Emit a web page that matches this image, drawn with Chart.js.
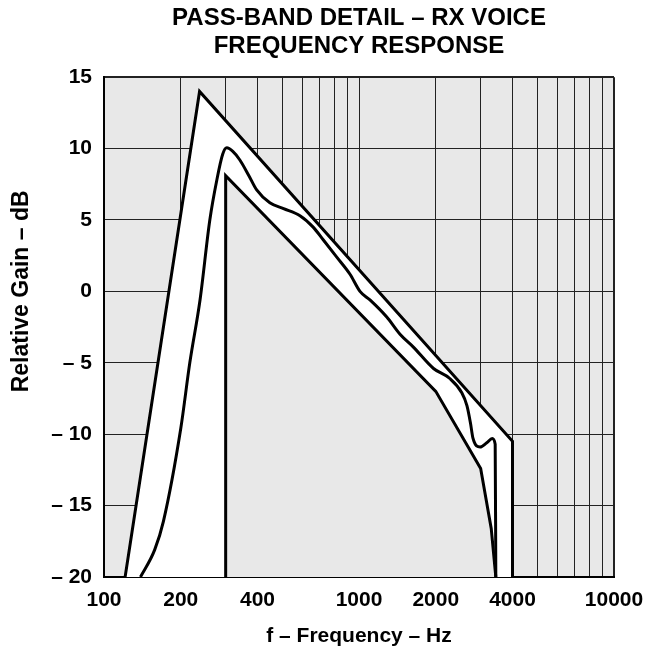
<!DOCTYPE html>
<html>
<head>
<meta charset="utf-8">
<script src="https://cdn.jsdelivr.net/npm/chart.js@4"></script>
<style>
  html, body { margin: 0; padding: 0; background: #fff; }
</style>
</head>
<body>
<canvas id="chart" width="662" height="650"></canvas>
<script>
// upper limit of the template
const upperFreq = [121, 237, 4000, 4000];
const upperGain = [-20, 14, -10.5, -20];

// lower limit of the template
const lowerFreq = [300, 300, 2000, 3000, 3300, 3440];
const lowerGain = [-20, 8.1, -7.0, -12.4, -16.6, -20];

// measured response
const respFreq = [139, 158, 171, 200, 217, 238, 260, 277, 292, 303, 320, 341, 370, 397, 447, 506, 587, 661, 725, 818, 922, 1009, 1104, 1285, 1448, 1634, 1960, 2270, 2530, 2650, 2735, 2800, 2985, 3170, 3330, 3420, 3440];
const respGain = [-20, -18.1, -16.1, -9.6, -5, -0.6, 5, 7.8, 9.6, 10.05, 9.8, 9.2, 8.1, 7.1, 6.2, 5.8, 5.3, 4.5, 3.6, 2.4, 1.2, 0, -0.6, -1.8, -3.0, -3.9, -5.4, -6.1, -7.1, -8.0, -9.2, -10.3, -10.9, -10.6, -10.3, -10.7, -20];

const gridFreqs = [100, 200, 300, 400, 500, 600, 700, 800, 900, 1000, 2000, 3000, 4000, 5000, 6000, 7000, 8000, 9000, 10000];
const freqLabels = [100, 200, 400, 1000, 2000, 4000, 10000];
const yTitle = 'Relative Gain – dB';

const plotGray = '#e8e8e8';
const font = 'Liberation Sans, Arial, Helvetica, sans-serif';

const toPoints = (xs, ys) => xs.map((x, i) => ({x: x, y: ys[i]}));

const plotBackground = {
  id: 'plotBackground',
  beforeDraw(chart) {
    const {ctx, chartArea} = chart;
    ctx.save();
    ctx.fillStyle = plotGray;
    ctx.fillRect(chartArea.left, chartArea.top, chartArea.right - chartArea.left, chartArea.bottom - chartArea.top);
    ctx.restore();
  }
};

// y axis title sits a little above the middle of the plot in the original
const yAxisTitle = {
  id: 'yAxisTitle',
  afterDraw(chart) {
    const {ctx} = chart;
    const y = chart.scales.y.getPixelForValue(0);
    ctx.save();
    ctx.translate(22, y);
    ctx.rotate(-Math.PI / 2);
    ctx.font = 'bold 23px ' + font;
    ctx.fillStyle = '#000';
    ctx.textAlign = 'center';
    ctx.textBaseline = 'middle';
    ctx.fillText(yTitle, 0, 0);
    ctx.restore();
  }
};

new Chart(document.getElementById('chart'), {
  type: 'line',
  data: {
    datasets: [
      {
        label: 'Response',
        data: toPoints(respFreq, respGain),
        borderColor: '#000',
        borderWidth: 3,
        pointRadius: 0,
        cubicInterpolationMode: 'monotone',
        fill: false
      },
      {
        label: 'Lower limit',
        data: toPoints(lowerFreq, lowerGain),
        borderColor: '#000',
        borderWidth: 3,
        pointRadius: 0,
        tension: 0,
        fill: 'start',
        backgroundColor: plotGray
      },
      {
        label: 'Upper limit',
        data: toPoints(upperFreq, upperGain),
        borderColor: '#000',
        borderWidth: 3,
        pointRadius: 0,
        tension: 0,
        fill: 'start',
        backgroundColor: '#fff'
      }
    ]
  },
  options: {
    responsive: false,
    animation: false,
    layout: {
      padding: {top: 0, left: 0, right: 48, bottom: 0}
    },
    plugins: {
      legend: {display: false},
      tooltip: {enabled: false},
      filler: {drawTime: 'beforeDatasetsDraw'},
      title: {
        display: true,
        fullSize: false,
        text: ['PASS-BAND DETAIL – RX VOICE', 'FREQUENCY RESPONSE'],
        color: '#000',
        font: {family: font, size: 24, weight: 'bold', lineHeight: 1.17},
        padding: {top: 4, bottom: 17}
      }
    },
    scales: {
      x: {
        type: 'logarithmic',
        min: 100,
        max: 10000,
        z: 1,
        afterFit(scale) { scale.height = 73; },
        afterBuildTicks(scale) {
          scale.ticks = gridFreqs.map(v => ({value: v}));
        },
        ticks: {
          autoSkip: false,
          maxRotation: 0,
          padding: 11,
          color: '#000',
          font: {family: font, size: 21, weight: 'bold'},
          callback: v => freqLabels.includes(v) ? String(v) : ''
        },
        grid: {
          color: '#222',
          lineWidth: ctx => (ctx.tick && ctx.tick.value === 10000) ? 2 : 1,
          drawTicks: false
        },
        border: {color: '#000', width: 2},
        title: {
          display: true,
          text: 'f – Frequency – Hz',
          color: '#000',
          font: {family: font, size: 21, weight: 'bold'},
          padding: {top: 0, bottom: 1}
        }
      },
      y: {
        min: -20,
        max: 15,
        z: 1,
        afterFit(scale) { scale.width = 104; },
        ticks: {
          stepSize: 5,
          padding: 12,
          color: '#000',
          font: {family: font, size: 21, weight: 'bold'},
          callback: v => v < 0 ? '– ' + Math.abs(v) : String(v)
        },
        grid: {
          color: '#222',
          lineWidth: ctx => (ctx.tick && ctx.tick.value === 15) ? 2 : 1,
          drawTicks: false
        },
        border: {color: '#000', width: 2},
        title: {display: false}
      }
    }
  },
  plugins: [plotBackground, yAxisTitle]
});
</script>
</body>
</html>
